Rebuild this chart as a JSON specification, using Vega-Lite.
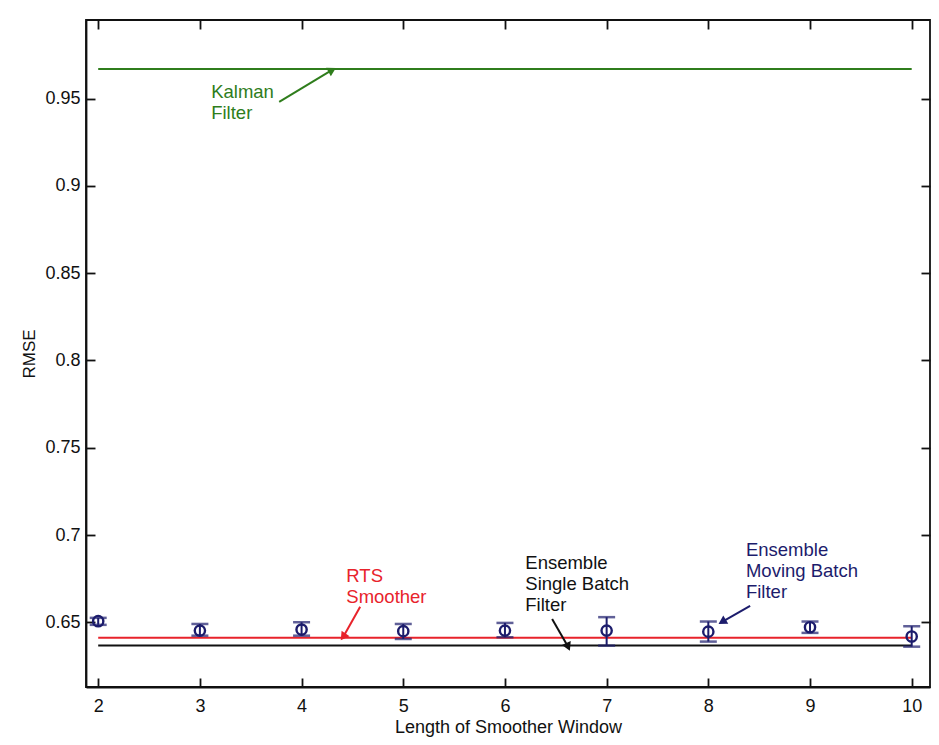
{
  "$schema": "https://vega.github.io/schema/vega-lite/v6.json",
  "width": 844,
  "height": 667,
  "autosize": "none",
  "padding": {"left": 86, "top": 20, "right": 9, "bottom": 58},
  "background": "white",
  "config": {
    "font": "Liberation Sans",
    "view": {"stroke": "#111111", "strokeWidth": 1.8},
    "axis": {
      "grid": false,
      "domainColor": "#111111",
      "domainWidth": 1.8,
      "tickColor": "#111111",
      "tickWidth": 1.8,
      "tickSize": -9,
      "labelColor": "#111111",
      "labelFontSize": 18,
      "labelFont": "Liberation Sans",
      "titleFont": "Liberation Sans",
      "titleFontWeight": "normal",
      "titleColor": "#111111",
      "titleFontSize": 18
    }
  },
  "datasets": {
    "lines": [
      {"series": "Kalman Filter", "x": 2, "y": 0.967},
      {"series": "Kalman Filter", "x": 10, "y": 0.967},
      {"series": "RTS Smoother", "x": 2, "y": 0.6412},
      {"series": "RTS Smoother", "x": 10, "y": 0.6412},
      {"series": "Ensemble Single Batch Filter", "x": 2, "y": 0.6368},
      {"series": "Ensemble Single Batch Filter", "x": 10, "y": 0.6368}
    ],
    "errors": [
      {"x": 2, "y": 0.6507, "lo": 0.6486, "hi": 0.6526},
      {"x": 3, "y": 0.6453, "lo": 0.6424, "hi": 0.6491},
      {"x": 4, "y": 0.6459, "lo": 0.6424, "hi": 0.6501},
      {"x": 5, "y": 0.645, "lo": 0.6405, "hi": 0.6491},
      {"x": 6, "y": 0.6453, "lo": 0.6415, "hi": 0.6497},
      {"x": 7, "y": 0.6453, "lo": 0.6367, "hi": 0.653},
      {"x": 8, "y": 0.6447, "lo": 0.639, "hi": 0.6505},
      {"x": 9, "y": 0.6472, "lo": 0.644, "hi": 0.6505},
      {"x": 10, "y": 0.6419, "lo": 0.6361, "hi": 0.6478}
    ],
    "labels": [
      {"series": "Kalman Filter", "text": "Kalman\nFilter", "x": 3.111, "y": 0.9587},
      {"series": "RTS Smoother", "text": "RTS\nSmoother", "x": 4.44, "y": 0.6815},
      {"series": "Ensemble Single Batch Filter", "text": "Ensemble\nSingle Batch\nFilter", "x": 6.2, "y": 0.689},
      {"series": "Ensemble Moving Batch Filter", "text": "Ensemble\nMoving Batch\nFilter", "x": 8.37, "y": 0.6964}
    ],
    "arrows": [
      {"series": "Kalman Filter", "x": 3.78, "y": 0.9481, "x2": 4.301, "y2": 0.9664},
      {"series": "RTS Smoother", "x": 4.576, "y": 0.6589, "x2": 4.409, "y2": 0.6417},
      {"series": "Ensemble Single Batch Filter", "x": 6.464, "y": 0.652, "x2": 6.621, "y2": 0.636},
      {"series": "Ensemble Moving Batch Filter", "x": 8.411, "y": 0.6595, "x2": 8.136, "y2": 0.6503}
    ]
  },
  "layer": [
    {
      "data": {"name": "lines"},
      "mark": {"type": "line", "strokeWidth": 2},
      "encoding": {
        "x": {"field": "x", "type": "quantitative", "scale": {"domain": [1.88, 10.18], "nice": false, "zero": false},
          "axis": {"orient": "bottom", "values": [2, 3, 4, 5, 6, 7, 8, 9, 10], "title": "Length of Smoother Window", "labelPadding": 19, "titlePadding": 3}},
        "y": {"field": "y", "type": "quantitative", "scale": {"domain": [0.613, 0.995], "nice": false, "zero": false},
          "axis": {"orient": "left", "values": [0.65, 0.7, 0.75, 0.8, 0.85, 0.9, 0.95], "format": "~g", "title": "RMSE", "titleFontSize": 17, "labelPadding": 15, "titlePadding": 6}},
        "color": {"field": "series", "type": "nominal", "legend": null,
          "scale": {"domain": ["Kalman Filter", "RTS Smoother", "Ensemble Single Batch Filter", "Ensemble Moving Batch Filter"], "range": ["#2f7d1c", "#e8232b", "#111111", "#1c1c6c"]}},
        "detail": {"field": "series"}
      }
    },
    {
      "data": {"name": "errors"},
      "mark": {"type": "rule", "color": "#1c1c6c", "strokeWidth": 2},
      "encoding": {
        "x": {"field": "x", "type": "quantitative", "scale": {"domain": [1.88, 10.18], "nice": false, "zero": false}, "axis": null},
        "y": {"field": "lo", "type": "quantitative", "scale": {"domain": [0.613, 0.995], "nice": false, "zero": false}, "axis": null},
        "y2": {"field": "hi"}
      }
    },
    {
      "data": {"name": "errors"},
      "mark": {"type": "tick", "orient": "horizontal", "color": "#1c1c6c", "size": 17, "thickness": 2.5},
      "encoding": {
        "x": {"field": "x", "type": "quantitative", "scale": {"domain": [1.88, 10.18], "nice": false, "zero": false}, "axis": null},
        "y": {"field": "lo", "type": "quantitative", "scale": {"domain": [0.613, 0.995], "nice": false, "zero": false}, "axis": null}
      }
    },
    {
      "data": {"name": "errors"},
      "mark": {"type": "tick", "orient": "horizontal", "color": "#1c1c6c", "size": 17, "thickness": 2.5},
      "encoding": {
        "x": {"field": "x", "type": "quantitative", "scale": {"domain": [1.88, 10.18], "nice": false, "zero": false}, "axis": null},
        "y": {"field": "hi", "type": "quantitative", "scale": {"domain": [0.613, 0.995], "nice": false, "zero": false}, "axis": null}
      }
    },
    {
      "data": {"name": "errors"},
      "mark": {"type": "point", "shape": "circle", "filled": false, "color": "#1c1c6c", "strokeWidth": 2.4, "size": 105, "opacity": 1},
      "encoding": {
        "x": {"field": "x", "type": "quantitative", "scale": {"domain": [1.88, 10.18], "nice": false, "zero": false},
          "axis": {"orient": "top", "values": [2, 3, 4, 5, 6, 7, 8, 9, 10], "labels": false, "title": null, "domain": false}},
        "y": {"field": "y", "type": "quantitative", "scale": {"domain": [0.613, 0.995], "nice": false, "zero": false},
          "axis": {"orient": "right", "values": [0.65, 0.7, 0.75, 0.8, 0.85, 0.9, 0.95], "labels": false, "title": null, "domain": false}}
      }
    },
    {
      "data": {"name": "labels"},
      "mark": {"type": "text", "align": "left", "baseline": "top", "fontSize": 18.5, "lineHeight": 21, "lineBreak": "\n"},
      "encoding": {
        "x": {"field": "x", "type": "quantitative", "scale": {"domain": [1.88, 10.18], "nice": false, "zero": false}, "axis": null},
        "y": {"field": "y", "type": "quantitative", "scale": {"domain": [0.613, 0.995], "nice": false, "zero": false}, "axis": null},
        "text": {"field": "text"},
        "color": {"field": "series", "type": "nominal", "legend": null}
      }
    },
    {
      "data": {"name": "arrows"},
      "mark": {"type": "rule", "strokeWidth": 2},
      "encoding": {
        "x": {"field": "x", "type": "quantitative", "scale": {"domain": [1.88, 10.18], "nice": false, "zero": false}, "axis": null},
        "y": {"field": "y", "type": "quantitative", "scale": {"domain": [0.613, 0.995], "nice": false, "zero": false}, "axis": null},
        "x2": {"field": "x2"},
        "y2": {"field": "y2"},
        "color": {"field": "series", "type": "nominal", "legend": null}
      }
    },
    {
      "data": {"name": "arrows"},
      "transform": [{"filter": "datum.series === 'Kalman Filter'"}],
      "mark": {"type": "point", "shape": "triangle-up", "filled": true, "size": 95, "angle": 61, "opacity": 1},
      "encoding": {
        "x": {"field": "x2", "type": "quantitative", "scale": {"domain": [1.88, 10.18], "nice": false, "zero": false}, "axis": null},
        "y": {"field": "y2", "type": "quantitative", "scale": {"domain": [0.613, 0.995], "nice": false, "zero": false}, "axis": null},
        "color": {"field": "series", "type": "nominal", "legend": null}
      }
    },
    {
      "data": {"name": "arrows"},
      "transform": [{"filter": "datum.series === 'RTS Smoother'"}],
      "mark": {"type": "point", "shape": "triangle-up", "filled": true, "size": 95, "angle": 215, "opacity": 1},
      "encoding": {
        "x": {"field": "x2", "type": "quantitative", "scale": {"domain": [1.88, 10.18], "nice": false, "zero": false}, "axis": null},
        "y": {"field": "y2", "type": "quantitative", "scale": {"domain": [0.613, 0.995], "nice": false, "zero": false}, "axis": null},
        "color": {"field": "series", "type": "nominal", "legend": null}
      }
    },
    {
      "data": {"name": "arrows"},
      "transform": [{"filter": "datum.series === 'Ensemble Single Batch Filter'"}],
      "mark": {"type": "point", "shape": "triangle-up", "filled": true, "size": 95, "angle": 155, "opacity": 1},
      "encoding": {
        "x": {"field": "x2", "type": "quantitative", "scale": {"domain": [1.88, 10.18], "nice": false, "zero": false}, "axis": null},
        "y": {"field": "y2", "type": "quantitative", "scale": {"domain": [0.613, 0.995], "nice": false, "zero": false}, "axis": null},
        "color": {"field": "series", "type": "nominal", "legend": null}
      }
    },
    {
      "data": {"name": "arrows"},
      "transform": [{"filter": "datum.series === 'Ensemble Moving Batch Filter'"}],
      "mark": {"type": "point", "shape": "triangle-up", "filled": true, "size": 95, "angle": 239, "opacity": 1},
      "encoding": {
        "x": {"field": "x2", "type": "quantitative", "scale": {"domain": [1.88, 10.18], "nice": false, "zero": false}, "axis": null},
        "y": {"field": "y2", "type": "quantitative", "scale": {"domain": [0.613, 0.995], "nice": false, "zero": false}, "axis": null},
        "color": {"field": "series", "type": "nominal", "legend": null}
      }
    }
  ],
  "resolve": {"axis": {"x": "independent", "y": "independent"}}
}
